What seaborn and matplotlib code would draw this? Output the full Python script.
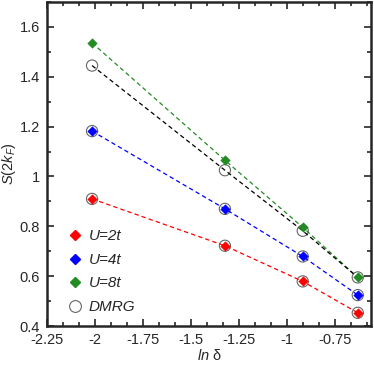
import numpy as np
import pandas as pd
import matplotlib
matplotlib.use("Agg")
import matplotlib.pyplot as plt
import seaborn as sns
from matplotlib.ticker import MultipleLocator

ln_delta = [-2.015, -1.322, -0.916, -0.629]
u2 = [0.910, 0.722, 0.579, 0.453]
u4 = [1.182, 0.870, 0.679, 0.524]
u8 = [1.536, 1.065, 0.796, 0.595]
dmrg8 = [1.445, 1.025, 0.782, 0.595]
labels = ["U=2t", "U=4t", "U=8t", "DMRG"]
colors = ["#ff0000", "#0000ff", "#228b22", "#000000"]

sns.set_style("ticks")
plt.rcParams['font.family'] = ['Liberation Sans', 'DejaVu Sans']
plt.rcParams['mathtext.fontset'] = 'custom'
plt.rcParams['mathtext.it'] = 'Liberation Sans:italic'
plt.rcParams['mathtext.rm'] = 'Liberation Sans'

fig = plt.figure(figsize=(3.74, 3.68), dpi=100)
ax = fig.add_axes([47/374, 1-326/368, (371-47)/374, (326-2)/368])

series = [(u2, colors[0]), (u4, colors[1]), (u8, colors[2]), (dmrg8, colors[3])]
for vals, c in series:
    df = pd.DataFrame({"x": ln_delta, "y": vals})
    sns.lineplot(data=df, x="x", y="y", ax=ax, color=c, lw=0.9,
                 linestyle=(0, (3.5, 2.5)), sort=False)

for vals in (u2, u4, dmrg8):
    df = pd.DataFrame({"x": ln_delta, "y": vals})
    sns.scatterplot(data=df, x="x", y="y", ax=ax, marker="o", s=65,
                    facecolor="none", edgecolor="#666666", linewidth=0.8)
for vals, c in series[:3]:
    df = pd.DataFrame({"x": ln_delta, "y": vals})
    sns.scatterplot(data=df, x="x", y="y", ax=ax, marker="D", s=24,
                    color=c, edgecolor=c, linewidth=0.3, zorder=5)

from matplotlib.lines import Line2D
handles = [Line2D([], [], ls="none", marker="D", ms=5, color=colors[i]) for i in range(3)]
handles.append(Line2D([], [], ls="none", marker="o", ms=8.5, mfc="none", mec="#666666", mew=0.8))
leg = ax.legend(handles, labels, loc="lower left", bbox_to_anchor=(0.02, -0.005),
                frameon=False, handlelength=1.0, handletextpad=0.4, labelspacing=0.62,
                prop={'style': 'italic', 'size': 11})

ax.set_xlim(-2.25, -0.56)
ax.set_ylim(0.4, 1.7)
ax.xaxis.set_minor_locator(MultipleLocator(0.25/3))
ax.yaxis.set_minor_locator(MultipleLocator(0.1))
ax.set_xticks([-2.25, -2, -1.75, -1.5, -1.25, -1, -0.75])
ax.set_xticklabels(["-2.25", "-2", "-1.75", "-1.5", "-1.25", "-1", "-0.75"])
ax.set_yticks([0.4, 0.6, 0.8, 1.0, 1.2, 1.4, 1.6])
ax.set_yticklabels(["0.4", "0.6", "0.8", "1", "1.2", "1.4", "1.6"])
ax.tick_params(which="both", direction="in", top=True, right=True, labelsize=10.5, width=1.2, pad=5)
ax.tick_params(which="major", length=5)
ax.tick_params(which="minor", length=3)
for s in ax.spines.values():
    s.set_linewidth(1.8)
ax.set_xlabel(r"$ln$ δ", fontsize=10.5, labelpad=1)
ax.set_ylabel(r"$S(2k_F)$", fontsize=10.5, labelpad=1)

fig.savefig("out.png", dpi=100)
